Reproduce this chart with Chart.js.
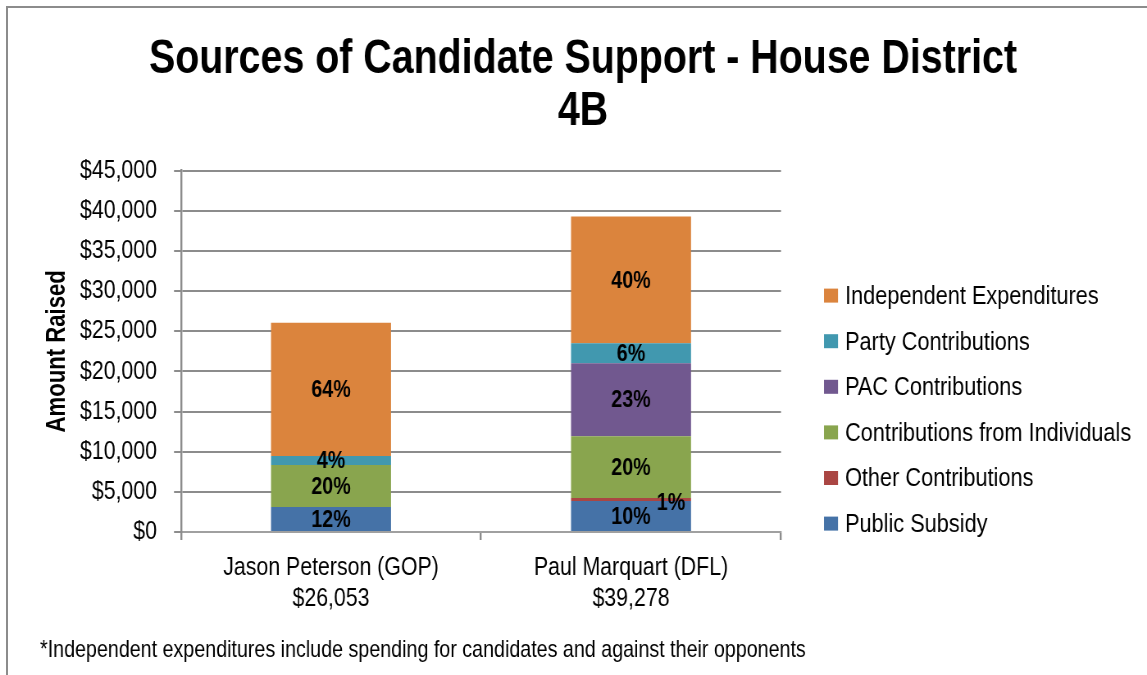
<!DOCTYPE html>
<html>
<head>
<meta charset="utf-8">
<script src="https://cdn.jsdelivr.net/npm/chart.js@4.4.1/dist/chart.umd.min.js"></script>
<style>
  html, body { margin: 0; padding: 0; background: #fff; }
  #wrap { position: relative; width: 1147px; height: 675px; overflow: hidden; }
  #frame { position: absolute; left: 6px; top: 6px; width: 1200px; height: 700px;
           border-left: 2px solid #8c8c8c; border-top: 2px solid #8c8c8c; }
  /* the canvas is drawn wide and squeezed back, which gives narrow lettering */
  #chart { position: absolute; left: 0; top: 0; transform-origin: 0 0; }
</style>
</head>
<body>
<div id="wrap">
  <div id="frame"></div>
  <canvas id="chart"></canvas>
</div>
<script>
const FONT = '"Liberation Sans", Arial, sans-serif';
const PAGE_W = 1147, PAGE_H = 675;
const SQUEEZE = 0.82;
const CANVAS_W = Math.round(PAGE_W / SQUEEZE);
const sx = v => v * CANVAS_W / PAGE_W;   // page px -> canvas px, horizontally

const candidates = ['Jason Peterson (GOP)', 'Paul Marquart (DFL)'];
const publicSubsidy = [3110, 3850];
const otherContributions = [0, 380];
const individualContributions = [5220, 7700];
const pacContributions = [0, 9070];
const partyContributions = [1120, 2500];
const independentExpenditures = [16603, 15778];
const yTicks = [0, 5000, 10000, 15000, 20000, 25000, 30000, 35000, 40000, 45000];
const yTitle = 'Amount Raised';
const footnote = '*Independent expenditures include spending for candidates and against their opponents';

const money = v => '$' + v.toLocaleString('en-US');

const seriesList = [
    { label: 'Public Subsidy', data: publicSubsidy, color: '#4572A7' },
    { label: 'Other Contributions', data: otherContributions, color: '#AA4643' },
    { label: 'Contributions from Individuals', data: individualContributions, color: '#89A54E' },
    { label: 'PAC Contributions', data: pacContributions, color: '#71588F' },
    { label: 'Party Contributions', data: partyContributions, color: '#4198AF' },
    { label: 'Independent Expenditures', data: independentExpenditures, color: '#DB843D' }
];

const totals = candidates.map((c, i) => seriesList.reduce((s, d) => s + d.data[i], 0));
const xLabels = candidates.map((c, i) => [c, money(totals[i])]);

// small segment labels get pushed to the side of the bar
const labelNudge = { 'Other Contributions': { dx: sx(40), dy: 3 } };

const canvas = document.getElementById('chart');
canvas.width = CANVAS_W;
canvas.height = PAGE_H;
canvas.style.transform = 'scaleX(' + (PAGE_W / CANVAS_W) + ')';

const percentLabels = {
    id: 'percentLabels',
    afterDatasetsDraw(chart) {
        const ctx = chart.ctx;
        ctx.save();
        ctx.font = 'bold 24px ' + FONT;
        ctx.fillStyle = '#000';
        ctx.textAlign = 'center';
        ctx.textBaseline = 'middle';
        chart.data.datasets.forEach((ds, di) => {
            const meta = chart.getDatasetMeta(di);
            meta.data.forEach((bar, i) => {
                const v = ds.data[i];
                if (!v) return;
                const pct = Math.round(v / totals[i] * 100);
                const nudge = labelNudge[ds.label] || { dx: 0, dy: 0 };
                ctx.fillText(pct + '%', bar.x + nudge.dx, (bar.y + bar.base) / 2 + nudge.dy + 1);
            });
        });
        ctx.restore();
    }
};

const extras = {
    id: 'extras',
    afterDraw(chart) {
        const ctx = chart.ctx;
        const area = chart.chartArea;
        const k = CANVAS_W / PAGE_W;

        // legend, top entry first
        const x = area.right + sx(43);
        let y = area.top + 125;
        ctx.save();
        ctx.font = '26.5px ' + FONT;
        ctx.textBaseline = 'middle';
        ctx.textAlign = 'left';
        chart.data.datasets.slice().reverse().forEach(ds => {
            ctx.fillStyle = ds.backgroundColor;
            ctx.fillRect(x, y - 7, sx(14), 14);
            ctx.fillStyle = '#000';
            ctx.fillText(ds.label, x + sx(21), y + 1);
            y += 45.6;
        });

        // footnote under the axis
        ctx.font = '24px ' + FONT;
        ctx.fillText(footnote, sx(40), 650);

        // rotated axis title, kept narrow along its length
        ctx.translate(sx(57), (area.top + area.bottom) / 2);
        ctx.scale(k, 1);
        ctx.rotate(-Math.PI / 2);
        ctx.scale(1 / k, 1);
        ctx.font = 'bold 27px ' + FONT;
        ctx.textAlign = 'center';
        ctx.fillText(yTitle, 0, 0);
        ctx.restore();
    }
};

new Chart(canvas, {
    type: 'bar',
    data: {
        labels: xLabels,
        datasets: seriesList.map(s => ({
            label: s.label,
            data: s.data,
            backgroundColor: s.color,
            borderWidth: 0,
            categoryPercentage: 1,
            barPercentage: 0.4
        }))
    },
    options: {
        responsive: false,
        animation: false,
        events: [],
        layout: { padding: { left: sx(19), right: 0, top: 0, bottom: 0 } },
        plugins: {
            legend: { display: false },
            tooltip: { enabled: false },
            title: {
                display: true,
                text: ['Sources of Candidate Support - House District', '4B'],
                color: '#000',
                font: { family: FONT, size: 48, weight: 'bold', lineHeight: 1.1 },
                padding: { top: 33, bottom: 32 }
            }
        },
        scales: {
            x: {
                stacked: true,
                grid: { drawOnChartArea: false, drawTicks: true, tickLength: 8, color: '#8c8c8c', lineWidth: 2.4, offset: true },
                border: { color: '#a0a0a0', width: 2 },
                ticks: {
                    color: '#000',
                    padding: 12,
                    font: { family: FONT, size: 26, lineHeight: 1.2 }
                },
                afterFit: scale => { scale.height = 143; }
            },
            y: {
                stacked: true,
                min: 0,
                max: 45000,
                afterBuildTicks: scale => { scale.ticks = yTicks.map(v => ({ value: v })); },
                grid: { color: '#8c8c8c', lineWidth: 2, tickLength: sx(7) },
                border: { color: '#8c8c8c', width: 2.4 },
                ticks: {
                    color: '#000',
                    padding: sx(17),
                    font: { family: FONT, size: 26 },
                    callback: v => money(v)
                },
                afterFit: scale => { scale.width = sx(181) - sx(19); }
            },
            yRight: {
                position: 'right',
                display: true,
                grid: { display: false },
                border: { display: false },
                ticks: { display: false },
                afterFit: scale => { scale.width = sx(366); }
            }
        }
    },
    plugins: [percentLabels, extras]
});
</script>
</body>
</html>
